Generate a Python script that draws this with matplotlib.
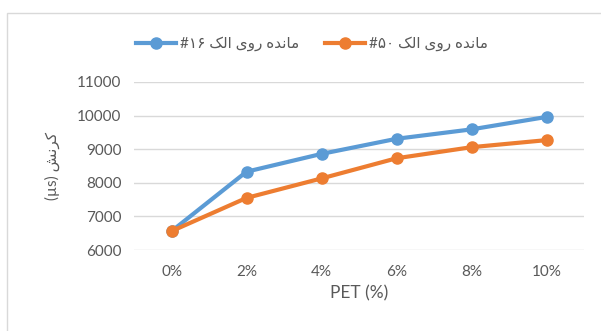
import matplotlib
matplotlib.use('Agg')
import matplotlib.pyplot as plt
from matplotlib.patches import Rectangle

# strain readings for the two sieve fractions
pet_labels = ['0%', '2%', '4%', '6%', '8%', '10%']
sieve16 = [6560, 8330, 8860, 9310, 9590, 9960]
sieve50 = [6560, 7550, 8130, 8730, 9060, 9270]

# Persian text written in visual order with presentation forms (no bidi engine here)
# "مانده روی الک" -> reversed, shaped
retained = '\uFB8F\uFEDF\uFE8D \uFEEF\uFEED\uFEAD \uFEE9\uFEAA\uFEE7\uFE8E\uFEE3'
label16 = '#\u06F1\u06F6 ' + retained
label50 = '#\u06F5\u06F0 ' + retained
# "کرنش (µs)"
ylab = '(\u00B5s) \uFEB6\uFEE7\uFEAE\uFB90'

plt.rcParams['font.family'] = ['Lato', 'DejaVu Sans']
grey = '#595959'

fig = plt.figure(figsize=(6.01, 3.31), dpi=100)
W, H = 601, 331
ax = fig.add_axes([134 / W, 1 - 250 / H, 450 / W, (250 - 82) / H])

x = range(len(pet_labels))
ax.plot(x, sieve16, color='#5B9BD5', lw=3, marker='o', ms=8, label=label16, zorder=3)
ax.plot(x, sieve50, color='#ED7D31', lw=3, marker='o', ms=8, label=label50, zorder=3)

ax.set_xlim(-0.5, 5.5)
ax.set_ylim(6000, 11000)
ax.set_yticks(range(6000, 11001, 1000))
ax.set_xticks(list(x))
ax.set_xticklabels(pet_labels)
ax.yaxis.grid(True, color='#D9D9D9', lw=1)
ax.set_axisbelow(True)
for s in ax.spines.values():
    s.set_visible(False)
ax.tick_params(length=0, colors=grey, labelsize=11)
ax.tick_params(axis='x', pad=11)
ax.tick_params(axis='y', pad=9)
ax.set_xlabel('PET (%)', color=grey, fontsize=12.5, labelpad=4)
ax.set_ylabel(ylab, color=grey, fontsize=11, labelpad=12)

leg = fig.legend(loc='center', bbox_to_anchor=(312 / W, 1 - 44 / H), ncol=2,
                 frameon=False, fontsize=11, handlelength=2.6, columnspacing=1.7,
                 handletextpad=0.25)
for t in leg.get_texts():
    t.set_color(grey)

# chart area border
fig.patches.append(Rectangle((7 / W, -0.1), 1.2, 1 - 13 / H + 0.1, transform=fig.transFigure,
                             fill=False, edgecolor='#D9D9D9', lw=1))

fig.savefig('out.png', dpi=100)
